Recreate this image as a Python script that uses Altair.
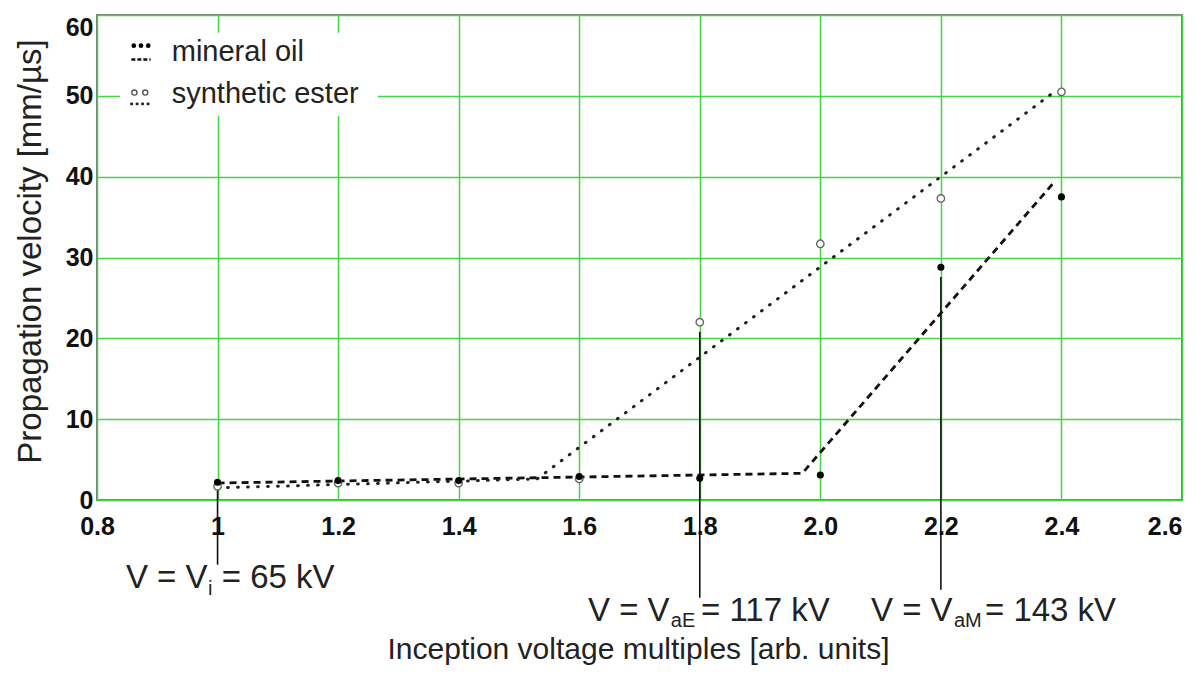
import altair as alt
import pandas as pd

# ---------------- data ----------------
voltage_multiples = [1.0, 1.2, 1.4, 1.6, 1.8, 2.0, 2.2, 2.4]
mineral_oil_velocity = [2.2, 2.4, 2.4, 2.9, 2.7, 3.1, 28.8, 37.5]
synthetic_ester_velocity = [1.7, 2.1, 2.1, 2.6, 22.0, 31.7, 37.3, 50.5]

mineral_trend_x = [1.0, 1.97, 2.39]
mineral_trend_y = [2.1, 3.3, 39.5]
ester_trend_x = [1.0, 1.53, 2.39]
ester_trend_y = [1.5, 2.6, 50.6]

x_tick_values = [0.8, 1.0, 1.2, 1.4, 1.6, 1.8, 2.0, 2.2, 2.4, 2.6]
y_tick_values = [0, 10, 20, 30, 40, 50, 60]

marker_x = [1.0, 1.8, 2.2]
marker_top = [2.0, 20.8, 27.6]
marker_bottom = [-8.0, -12.1, -11.1]

label_text = ["V = V", "i", "= 65 kV", "V = V", "aE", "= 117 kV", "V = V", "aM", "= 143 kV"]
label_x = [0.848, 0.984, 1.007, 1.6145, 1.752, 1.802, 2.084, 2.2217, 2.2731]
label_y = [-10.9, -11.7, -10.9, -15.0, -15.75, -15.0, -15.0, -15.75, -15.0]
label_size = [33, 20, 33, 33, 20, 33, 33, 20, 33]

legend_names = ["mineral oil", "synthetic ester"]
legend_text_x = [0.924, 0.924]
legend_text_y = [54.3, 49.1]
legend_box_x = [0.838, 1.266]
legend_box_y = [47.5, 57.8]
legend_dot_x = [0.861, 0.873, 0.885]
legend_dot_y = [56.2, 56.2, 56.2]
legend_circle_x = [0.862, 0.880]
legend_circle_y = [50.4, 50.4]
legend_dash_x = [0.857, 0.889]
legend_dash_y = [54.5, 54.5]
legend_dotline_x = [0.857, 0.889]
legend_dotline_y = [49.0, 49.0]

FONT = "Liberation Sans"

# ---------------- scales / axes ----------------
xs = alt.Scale(domain=[0.8, 2.6], nice=False, zero=False)
ys = alt.Scale(domain=[0, 60], nice=False, zero=False)

x_axis = alt.Axis(
    values=x_tick_values,
    labelExpr="datum.value == 1 ? '1' : format(datum.value, '.1f')",
    grid=True, ticks=False, domain=False,
    labelFontSize=25, labelFontWeight="bold", labelColor="#111",
    labelPadding=14, labelFlush=False,
    labelAlign={"condition": {"test": "datum.value > 2.5", "value": "right"}, "value": "center"},
    title="Inception voltage multiples [arb. units]",
    titleFontSize=30, titleFontWeight="normal", titleColor="#222",
    titleX=541, titleY=158, titleAlign="center", titleBaseline="alphabetic",
)
y_axis = alt.Axis(
    values=y_tick_values,
    grid=True, ticks=False, domain=False,
    labelFontSize=25, labelFontWeight="bold", labelColor="#111",
    labelPadding=4,
    labelBaseline={"condition": {"test": "datum.value > 55", "value": "top"}, "value": "middle"},
    title="Propagation velocity [mm/µs]",
    titleFontSize=33, titleFontWeight="normal", titleColor="#222",
    titleX=-67, titleY=236, titleAngle=270, titleAlign="center", titleBaseline="middle",
)

X = alt.X("x:Q", scale=xs, axis=x_axis)
Y = alt.Y("y:Q", scale=ys, axis=y_axis)

# ---------------- layers ----------------
box_df = pd.DataFrame({"x": [legend_box_x[0]], "x2": [legend_box_x[1]],
                       "y": [legend_box_y[0]], "y2": [legend_box_y[1]]})
box = alt.Chart(box_df).mark_rect(color="white").encode(
    x=X, x2="x2:Q", y=Y, y2="y2:Q")

rules_df = pd.DataFrame({"x": marker_x, "y": marker_top, "y2": marker_bottom})
rules = alt.Chart(rules_df).mark_rule(color="#111", strokeWidth=1.6).encode(
    x=X, y=Y, y2="y2:Q")

min_trend = alt.Chart(pd.DataFrame({"x": mineral_trend_x, "y": mineral_trend_y})).mark_line(
    color="#111", strokeWidth=2.8, strokeDash=[7, 5]).encode(x=X, y=Y)
est_trend = alt.Chart(pd.DataFrame({"x": ester_trend_x, "y": ester_trend_y})).mark_line(
    color="#222", strokeWidth=3, strokeDash=[0.8, 9.2], strokeCap="round").encode(x=X, y=Y)

est_pts = alt.Chart(pd.DataFrame({"x": voltage_multiples, "y": synthetic_ester_velocity})).mark_point(
    shape="circle", size=55, filled=False, fill="white", fillOpacity=1,
    color="#666", strokeWidth=1.4, opacity=1).encode(x=X, y=Y)
min_pts = alt.Chart(pd.DataFrame({"x": voltage_multiples, "y": mineral_oil_velocity})).mark_point(
    shape="circle", size=50, filled=True, color="#000", opacity=1).encode(x=X, y=Y)

# legend
leg_dash = alt.Chart(pd.DataFrame({"x": legend_dash_x, "y": legend_dash_y})).mark_line(
    color="#111", strokeWidth=2.6, strokeDash=[4, 2]).encode(x=X, y=Y)
leg_dotline = alt.Chart(pd.DataFrame({"x": legend_dotline_x, "y": legend_dotline_y})).mark_line(
    color="#222", strokeWidth=2.6, strokeDash=[0.5, 5], strokeCap="round").encode(x=X, y=Y)
leg_dots = alt.Chart(pd.DataFrame({"x": legend_dot_x, "y": legend_dot_y})).mark_point(
    shape="circle", size=22, filled=True, color="#000", opacity=1).encode(x=X, y=Y)
leg_circles = alt.Chart(pd.DataFrame({"x": legend_circle_x, "y": legend_circle_y})).mark_point(
    shape="circle", size=26, filled=False, color="#555", strokeWidth=1.4, opacity=1).encode(x=X, y=Y)
leg_text = alt.Chart(pd.DataFrame({"x": legend_text_x, "y": legend_text_y, "t": legend_names})).mark_text(
    align="left", baseline="alphabetic", fontSize=29, color="#222", font=FONT).encode(
    x=X, y=Y, text="t:N")

# annotations below the axis
ann = alt.Chart(pd.DataFrame({"x": label_x, "y": label_y, "t": label_text, "fs": label_size})).mark_text(
    align="left", baseline="alphabetic", color="#222", font=FONT).encode(
    x=X, y=Y, text="t:N", size=alt.Size("fs:Q", scale=None, legend=None))

chart = alt.layer(
    box, rules, min_trend, est_trend, est_pts, min_pts,
    leg_dash, leg_dotline, leg_dots, leg_circles, leg_text, ann
).properties(
    width=1085, height=485,
    autosize=alt.AutoSizeParams(type="none"),
    padding={"left": 89, "top": 7, "right": 7, "bottom": 167},
    background="white",
).configure(
    font=FONT,
).configure_view(
    stroke="#555", strokeWidth=1.6,
).configure_axis(
    gridColor="#45d445", gridWidth=1.5, gridOpacity=1,
    labelFont=FONT, titleFont=FONT,
)

chart.save("out.html", embed_options={"renderer": "svg", "actions": False})
